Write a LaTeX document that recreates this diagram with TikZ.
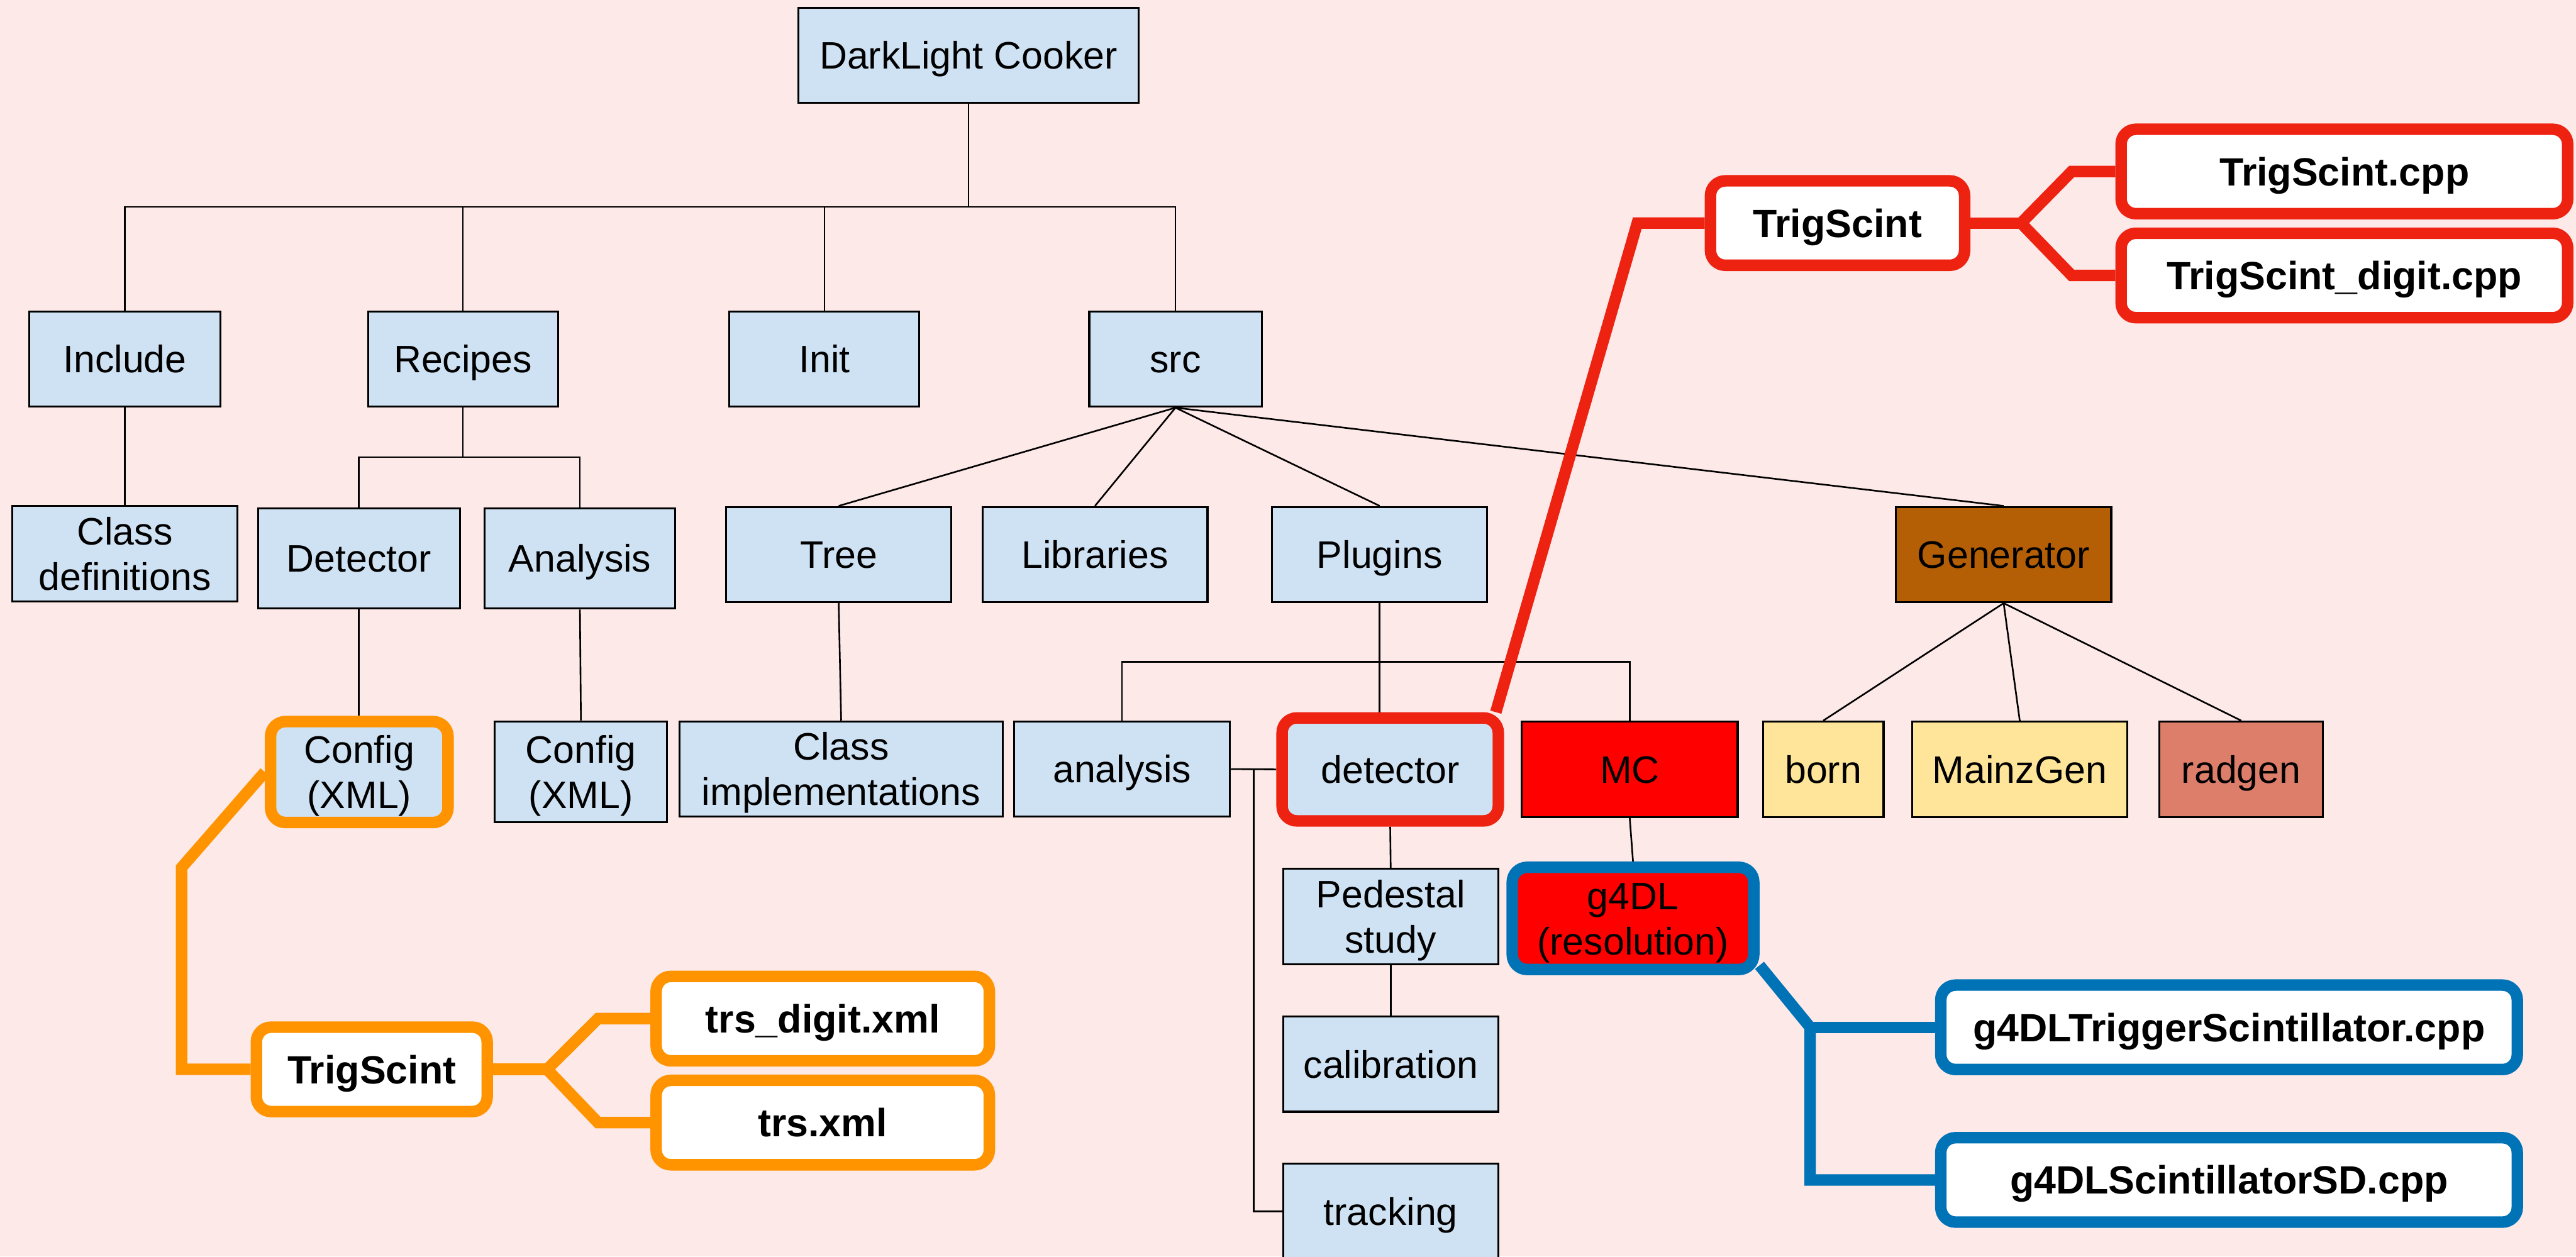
\documentclass[tikz,border=0pt]{standalone}
\usepackage{fontspec}
\setmainfont{Liberation Sans}
\usetikzlibrary{calc}
\pgfdeclarelayer{back}
\pgfsetlayers{back,main}
\definecolor{bgpink}{HTML}{FDE9E8}
\definecolor{boxblue}{HTML}{CFE2F3}
\definecolor{genbrown}{HTML}{B45F06}
\definecolor{lightyel}{HTML}{FFE599}
\definecolor{berry}{HTML}{DD7E6B}
\definecolor{mcred}{HTML}{FF0000}
\definecolor{hlred}{HTML}{EE2211}
\definecolor{hlorange}{HTML}{FF9300}
\definecolor{hlblue}{HTML}{0073B7}
\newcommand\dfont{\fontsize{23.3}{27.6}\selectfont}
\newcommand\bfont{\fontsize{24}{28}\selectfont\bfseries}
\begin{document}
\begin{tikzpicture}[x=1pt,y=-1pt,
  box/.style={draw=black, line width=1.2pt, fill=boxblue, minimum height=58pt,
    inner sep=0pt, align=center, font=\dfont, text height=16.7pt, text depth=0pt},
  twolines/.style={text height=44.3pt, text depth=0pt},
  hl/.style={draw=#1, line width=7pt, rounded corners=9pt, fill=white,
    minimum height=51.4pt, inner sep=0pt, align=center, font=\bfont,
    text height=17.2pt, text depth=0pt},
  conn/.style={draw=black, line width=1pt},
  hlpath/.style={draw=#1, line width=7pt, line cap=butt}
]
\useasboundingbox (0,0) rectangle (1568,765);

% top levels
\node[box, minimum width=207pt] (root) at (589.5,33.7) {DarkLight Cooker};
\node[box, minimum width=116.6pt] (include) at (76,218.6) {Include};
\node[box, minimum width=115.6pt] (recipes) at (281.8,218.6) {Recipes};
\node[box, minimum width=115.6pt] (init) at (501.8,218.6) {Init};
\node[box, minimum width=105pt] (src) at (715.5,218.6) {src};

% second level
\node[box, twolines, minimum width=137pt] (classdef) at (76,337) {Class\\definitions};
\node[box, minimum width=123pt, minimum height=61pt] (detR) at (218.5,340) {Detector};
\node[box, minimum width=116pt, minimum height=61pt] (anaR) at (353,340) {Analysis};
\node[box, minimum width=137pt] (tree) at (510.5,337.6) {Tree};
\node[box, minimum width=137pt] (libs) at (666.5,337.6) {Libraries};
\node[box, minimum width=131pt] (plugins) at (839.8,337.6) {Plugins};
\node[box, minimum width=131pt, fill=genbrown] (generator) at (1219.6,337.6) {Generator};

% third level
\node[box, twolines, draw=hlorange, line width=7pt, rounded corners=9pt,
  minimum width=108pt, minimum height=61.4pt] (configA) at (218.7,470) {Config\\(XML)};
\node[box, twolines, minimum width=105pt, minimum height=61.4pt] (configB) at (353.6,469.9) {Config\\(XML)};
\node[box, twolines, minimum width=196.7pt] (classimpl) at (512,468.2) {Class\\implementations};
\node[box, minimum width=131.3pt] (analysis) at (683,468.2) {analysis};
\node[box, draw=hlred, line width=7pt, rounded corners=9pt,
  minimum width=131.6pt, minimum height=62.7pt] (detector) at (846.2,468.4) {detector};
\node[box, minimum width=131.4pt, fill=mcred] (MC) at (992,468.3) {MC};
\node[box, minimum width=73.4pt, fill=lightyel] (born) at (1109.8,468.3) {born};
\node[box, minimum width=131pt, fill=lightyel] (mainz) at (1229.4,468.3) {MainzGen};
\node[box, minimum width=99.6pt, fill=berry] (radgen) at (1364.2,468.3) {radgen};

% detector plugin chain
\node[box, twolines, minimum width=131pt] (pedestal) at (846.5,558) {Pedestal\\study};
\node[box, minimum width=131pt] (calib) at (846.5,647.8) {calibration};
\node[box, minimum width=131pt] (tracking) at (846.5,737.5) {tracking};
\node[box, twolines, draw=hlblue, line width=7pt, rounded corners=9pt, fill=mcred,
  minimum width=147pt, minimum height=62.2pt] (g4DL) at (994,559.1) {g4DL\\(resolution)};

% trigger scintillator files
\node[hl=hlred, minimum width=154.7pt] (tsR) at (1118.5,135.8) {TrigScint};
\node[hl=hlred, minimum width=271.8pt] (tsc) at (1427,104.4) {TrigScint.cpp};
\node[hl=hlred, minimum width=271.8pt] (tsd) at (1427,167.7) {TrigScint\_digit.cpp};
\node[hl=hlorange, minimum width=140.5pt] (tsO) at (226.3,651) {TrigScint};
\node[hl=hlorange, minimum width=202.8pt] (trsd) at (500.8,620.1) {trs\_digit.xml};
\node[hl=hlorange, minimum width=202.8pt] (trs) at (500.8,683.4) {trs.xml};
\node[hl=hlblue, minimum width=350.9pt] (g4T) at (1356.8,625.4) {g4DLTriggerScintillator.cpp};
\node[hl=hlblue, minimum width=350.9pt] (g4S) at (1356.8,718.3) {g4DLScintillatorSD.cpp};

\begin{pgfonlayer}{back}
\fill[bgpink] (0,0) rectangle (1568,765);

% tree connectors
\coordinate (bus) at (589.5,126);
\draw[conn] (root.south) -- (bus);
\draw[conn] (include.north) -- (include.north |- bus) -- (src.north |- bus) -- (src.north);
\draw[conn] (recipes.north) -- (recipes.north |- bus);
\draw[conn] (init.north) -- (init.north |- bus);
\draw[conn] (include.south) -- (classdef.north);

\coordinate (rbus) at (281.8,278.3);
\draw[conn] (recipes.south) -- (rbus);
\draw[conn] (detR.north) -- (detR.north |- rbus) -- (anaR.north |- rbus) -- (anaR.north);
\draw[conn] (detR.south) -- (detR.south |- configA.north);
\draw[conn] (anaR.south) -- (configB.north);

\draw[conn] (src.south) -- (tree.north);
\draw[conn] (src.south) -- (libs.north);
\draw[conn] (src.south) -- (plugins.north);
\draw[conn] (src.south) -- (generator.north);
\draw[conn] (tree.south) -- (classimpl.north);

\coordinate (pbus) at (839.8,403);
\draw[conn] (plugins.south) -- (plugins.south |- detector.north);
\draw[conn] (analysis.north) -- (analysis.north |- pbus) -- (MC.north |- pbus) -- (MC.north);
\draw[conn] (analysis.east) -- (detector.west);
\coordinate (vx) at ($(analysis.east)!0.5!(detector.west)$);
\draw[conn] (vx) -- (vx |- tracking.west) -- (tracking.west);
\draw[conn] (detector.south) -- (pedestal.north);
\draw[conn] (pedestal.south) -- (calib.north);
\draw[conn] (MC.south) -- (g4DL.north);

\draw[conn] (generator.south) -- (born.north);
\draw[conn] (generator.south) -- (mainz.north);
\draw[conn] (generator.south) -- (radgen.north);

% highlighted paths
\coordinate (rb) at (996.6,135.8);
\draw[hlpath=hlred] ([xshift=-5pt]detector.north east) -- (rb) -- (tsR.west);
\coordinate (rf) at (1230.2,135.8);
\draw[hlpath=hlred] (tsc.west) -- (1261,104.4) -- (rf) -- (1261,167.7) -- (tsd.west);
\draw[hlpath=hlred] (tsR.east) -- (rf);

\coordinate (ob) at (110.5,528.2);
\draw[hlpath=hlorange] (configA.west) -- (ob) -- (ob |- tsO.west) -- (tsO.west);
\coordinate (of) at (333,651);
\draw[hlpath=hlorange] (trsd.west) -- (364,620.1) -- (of) -- (364,683.4) -- (trs.west);
\draw[hlpath=hlorange] (tsO.east) -- (of);

\coordinate (bj) at (1101.8,625.4);
\draw[hlpath=hlblue] ([yshift=6pt]g4DL.south east) -- (bj) -- (bj |- g4S.west) -- (g4S.west);
\draw[hlpath=hlblue] (bj) -- (g4T.west);
\end{pgfonlayer}
\end{tikzpicture}
\end{document}
